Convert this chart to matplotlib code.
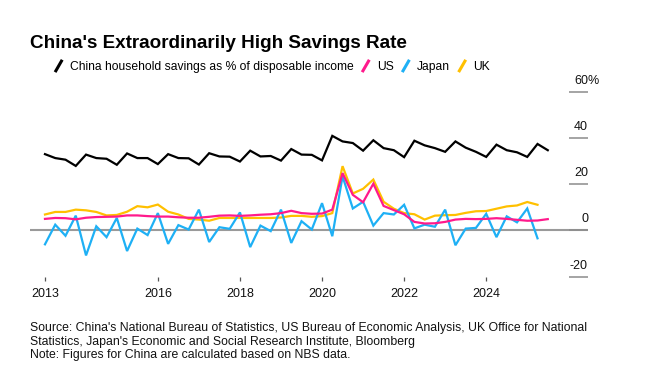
import matplotlib
matplotlib.use("Agg")
import matplotlib.pyplot as plt
import matplotlib.transforms as mtransforms
from matplotlib.legend_handler import HandlerBase
from matplotlib.lines import Line2D
import pandas as pd

plt.rcParams['font.family'] = ['Liberation Sans', 'DejaVu Sans']

# ---------------- data (quarterly, % of disposable income) ----------------
start_quarter = '2013Q1'
china = [33.0, 31.3, 30.6, 27.9, 32.8, 31.3, 31.0, 28.4, 33.3, 31.3,
         31.3, 28.7, 33.0, 31.3, 31.2, 28.5, 33.4, 32.0, 31.9, 29.8,
         34.5, 32.0, 32.2, 30.2, 35.2, 32.8, 32.7, 30.3, 40.9, 38.5,
         37.8, 34.5, 39.0, 35.6, 34.7, 31.7, 38.8, 36.8, 35.6, 34.0,
         38.5, 35.8, 34.0, 31.8, 37.1, 34.7, 33.8, 31.8, 37.4, 34.7]
us = [5.0, 5.4, 5.3, 4.8, 5.5, 5.8, 5.9, 6.0, 6.5, 6.5,
      6.2, 6.0, 6.0, 5.7, 5.5, 5.5, 5.9, 6.4, 6.5, 6.3,
      6.5, 6.8, 7.0, 7.5, 8.5, 7.5, 7.2, 7.3, 9.0, 24.8,
      15.4, 12.2, 20.2, 10.6, 8.8, 7.0, 3.7, 3.0, 3.1, 3.7,
      4.7, 5.0, 4.9, 5.0, 5.3, 5.0, 4.6, 4.2, 4.3, 4.9]
japan = [-6.0, 2.5, -2.3, 6.4, -10.8, 1.8, -2.9, 5.4, -8.9, 0.8,
         -2.0, 7.5, -5.8, 2.3, 0.4, 9.0, -5.0, 1.4, 0.7, 7.8,
         -7.2, 2.1, -0.3, 9.0, -5.4, 4.0, 0.4, 11.8, -2.5, 23.4,
         9.5, 12.4, 2.1, 7.5, 6.9, 11.1, 0.9, 2.5, 1.6, 9.0,
         -6.4, 0.8, 1.1, 7.2, -2.9, 6.1, 3.5, 9.5, -3.4]
uk = [6.9, 8.0, 8.0, 9.0, 8.7, 8.0, 6.5, 6.7, 8.1, 10.5,
      10.0, 11.2, 8.1, 6.9, 5.0, 4.7, 4.2, 5.4, 5.4, 5.4,
      5.4, 5.4, 5.4, 5.6, 6.3, 6.3, 5.9, 6.2, 7.5, 27.8,
      16.0, 18.0, 22.0, 12.4, 9.4, 7.5, 7.0, 4.7, 6.4, 6.6,
      6.7, 7.6, 8.3, 8.4, 9.4, 10.4, 10.8, 12.3, 11.1]

series_names = ['China household savings as % of disposable income', 'US', 'Japan', 'UK']
series_colors = ['#000000', '#ff1a8c', '#1eb0f5', '#ffc000']

xtick_years = [2013, 2016, 2018, 2020, 2022, 2024]
ytick_values = [-20, 0, 20, 40, 60]
ytick_labels = ['-20', '0', '20', '40', '60']

title = "China's Extraordinarily High Savings Rate"
source = ("Source: China's National Bureau of Statistics, US Bureau of Economic Analysis, UK Office for National\n"
          "Statistics, Japan's Economic and Social Research Institute, Bloomberg\n"
          "Note: Figures for China are calculated based on NBS data.")


def quarter_positions(n):
    periods = pd.period_range(start_quarter, periods=n, freq='Q')
    return [p.year + p.quarter / 4 for p in periods]


# ---------------- figure ----------------
W, H = 645, 383
fig = plt.figure(figsize=(W / 100, H / 100), dpi=100)
ax = fig.add_axes([30 / W, (H - 276.7) / H, (588 - 30) / W, (276.7 - 91.7) / H])

data = [china, us, japan, uk]
handles = []
for vals, name, col in zip(data, series_names, series_colors):
    x = quarter_positions(len(vals))
    ln, = ax.plot(x, vals, color=col, lw=1.6, solid_joinstyle='miter', label=name, zorder=3)
    handles.append(ln)

handles[3].set_zorder(2.5)
handles[1].set_zorder(3.2)
handles[2].set_zorder(3.1)

ax.set_xlim(2012.885, 2026.48)
ax.set_ylim(-20, 60)
ax.axhline(0, color='#9a9a9a', lw=1.5, zorder=1)

for s in ax.spines.values():
    s.set_visible(False)

# x ticks
xt = [2013.25] + xtick_years[1:]
ax.set_xticks(xt)
ax.set_xticklabels([str(y) for y in xtick_years])
ax.tick_params(axis='x', length=3, width=0.9, color='#555555', pad=5,
               labelsize=9, labelcolor='#111111')

# y ticks on right, drawn inward as short dashes
ax.yaxis.tick_right()
ax.set_yticks(ytick_values)
ax.tick_params(axis='y', direction='in', length=13.7, width=1.1, color='#8c8c8c',
               labelright=False, labelleft=False)
trans = mtransforms.blended_transform_factory(ax.transAxes, ax.transData)
for v, lab in zip(ytick_values, ytick_labels):
    t = mtransforms.offset_copy(trans, fig=fig, x=0, y=5, units='dots')
    ax.text(1.0, v, lab, transform=t, ha='right', va='bottom', fontsize=9, color='#111111')
    if v == 60:
        ax.text(1.0, v, '%', transform=t, ha='left', va='bottom', fontsize=9, color='#111111')

# title
fig.text(30 / W, 1 - 43 / H, title, fontsize=13.6, fontweight='bold', va='center', ha='left',
         color='#000000')


# legend with slash handles
class SlashHandler(HandlerBase):
    def create_artists(self, legend, orig_handle, xdescent, ydescent, width, height,
                       fontsize, trans):
        x0 = -xdescent + width * 0.1
        x1 = -xdescent + width * 0.75
        y0 = -ydescent - height * 0.25
        y1 = -ydescent + height * 1.2
        l = Line2D([x0, x1], [y0, y1], color=orig_handle.get_color(), lw=2.2,
                   solid_capstyle='butt', transform=trans)
        return [l]


leg = fig.legend(handles, series_names, loc='center left',
                 bbox_to_anchor=(54 / W, 1 - 67 / H), ncol=4, frameon=False,
                 fontsize=8.75, handlelength=0.9, handletextpad=0.4, columnspacing=0.62,
                 borderpad=0, borderaxespad=0,
                 handler_map={Line2D: SlashHandler()})

# source
fig.text(30 / W, 1 - 322 / H, source, fontsize=8.8, va='top', ha='left', color='#111111',
         linespacing=1.17)

fig.savefig('out.png', dpi=100)
